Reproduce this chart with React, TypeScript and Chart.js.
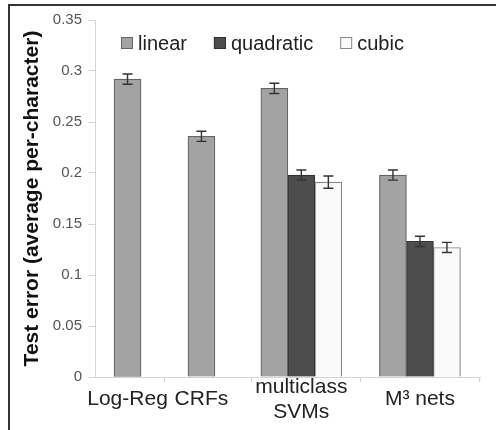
import React, { useEffect, useRef } from "react";
import { Chart, registerables, CategoryScale } from "chart.js";

Chart.register(...registerables);

// ---------- data ----------
const categories: (string | string[])[] = ["Log-Reg", "CRFs", ["multiclass", "SVMs"], "M³ nets"];
const seriesNames = ["linear", "quadratic", "cubic"];
const linearValues: (number | null)[] = [0.292, 0.236, 0.283, 0.198];
const quadraticValues: (number | null)[] = [null, null, 0.198, 0.133];
const cubicValues: (number | null)[] = [null, null, 0.191, 0.127];
const linearErrors: (number | null)[] = [0.005, 0.005, 0.005, 0.005];
const quadraticErrors: (number | null)[] = [null, null, 0.005, 0.005];
const cubicErrors: (number | null)[] = [null, null, 0.006, 0.005];
const yTickValues = [0, 0.05, 0.1, 0.15, 0.2, 0.25, 0.3, 0.35];
const yTickLabels = ["0", "0.05", "0.1", "0.15", "0.2", "0.25", "0.3", "0.35"];

// ---------- layout (category edges as fractions of the axis width) ----------
const CATEGORY_EDGES = [0, 0.169, 0.384, 0.688, 1];

class WeightedCategoryScale extends (CategoryScale as any) {
  static id = "weightedCategory";
  static defaults = (CategoryScale as any).defaults;
  getPixelForValue(value: any) {
    let v = value;
    if (typeof v !== "number") v = (this as any).parse(v);
    if (v === null || v === undefined || isNaN(v)) return NaN;
    const n = CATEGORY_EDGES.length - 1;
    let i = Math.floor(v + 0.5);
    if (i < 0) i = 0;
    if (i > n - 1) i = n - 1;
    const frac = v + 0.5 - i;
    const dec = CATEGORY_EDGES[i] + frac * (CATEGORY_EDGES[i + 1] - CATEGORY_EDGES[i]);
    return (this as any).getPixelForDecimal(dec);
  }
}
Chart.register(WeightedCategoryScale as any);

const FONT = "'Liberation Sans', Arial, Helvetica, sans-serif";

const errorBarPlugin = {
  id: "errorBars",
  afterDatasetsDraw(chart: any) {
    const ctx = chart.ctx;
    const yScale = chart.scales.y;
    ctx.save();
    ctx.strokeStyle = "#333";
    ctx.lineWidth = 1.4;
    chart.data.datasets.forEach((ds: any, di: number) => {
      const meta = chart.getDatasetMeta(di);
      const errs: (number | null)[] = ds.errors || [];
      meta.data.forEach((bar: any, i: number) => {
        const v = ds.data[i];
        const e = errs[i];
        if (v == null || e == null) return;
        const x = bar.x;
        const yTop = yScale.getPixelForValue(v + e);
        const yBot = yScale.getPixelForValue(v - e);
        const cap = 5;
        ctx.beginPath();
        ctx.moveTo(x, yTop);
        ctx.lineTo(x, yBot);
        ctx.moveTo(x - cap, yTop);
        ctx.lineTo(x + cap, yTop);
        ctx.moveTo(x - cap, yBot);
        ctx.lineTo(x + cap, yBot);
        ctx.stroke();
      });
    });
    ctx.restore();
  },
};

const legendPlugin = {
  id: "insideLegend",
  afterDraw(chart: any) {
    const ctx = chart.ctx;
    ctx.save();
    ctx.font = `20px ${FONT}`;
    ctx.textBaseline = "middle";
    ctx.textAlign = "left";
    let x = 121;
    const cy = 43;
    chart.data.datasets.forEach((ds: any) => {
      ctx.fillStyle = ds.backgroundColor;
      ctx.fillRect(x, cy - 6, 12, 12);
      ctx.strokeStyle = ds.borderColor;
      ctx.lineWidth = 1;
      ctx.strokeRect(x + 0.5, cy - 5.5, 11, 11);
      ctx.fillStyle = "#222";
      ctx.fillText(ds.label, x + 17, cy + 1);
      x += 17 + ctx.measureText(ds.label).width + 27;
    });
    ctx.restore();
  },
};

export default function App() {
  const canvasRef = useRef<HTMLCanvasElement | null>(null);

  useEffect(() => {
    if (!canvasRef.current) return;
    const chart = new Chart(canvasRef.current, {
      type: "bar",
      data: {
        labels: categories as any,
        datasets: [
          {
            label: seriesNames[0],
            data: linearValues,
            errors: linearErrors,
            backgroundColor: "#a3a3a3",
            borderColor: "#666",
            borderWidth: 1.2,
          } as any,
          {
            label: seriesNames[1],
            data: quadraticValues,
            errors: quadraticErrors,
            backgroundColor: "#4d4d4d",
            borderColor: "#333",
            borderWidth: 1.2,
          } as any,
          {
            label: seriesNames[2],
            data: cubicValues,
            errors: cubicErrors,
            backgroundColor: "#f9f9f9",
            borderColor: "#888",
            borderWidth: 1.2,
          } as any,
        ],
      },
      options: {
        animation: false,
        responsive: false,
        maintainAspectRatio: false,
        skipNull: true,
        barThickness: 27,
        layout: { padding: { left: 8, top: 20, right: 16, bottom: 0 } },
        plugins: {
          legend: { display: false },
          tooltip: { enabled: false },
        },
        scales: {
          x: {
            type: "weightedCategory" as any,
            offset: true,
            grid: {
              offset: true,
              drawOnChartArea: false,
              drawTicks: true,
              tickLength: 5,
              color: "#d4d4d4",
            },
            border: { color: "#d4d4d4" },
            ticks: {
              font: { family: FONT, size: 21 },
              color: "#222",
              padding: 5,
              maxRotation: 0,
              autoSkip: false,
              crossAlign: "center",
            } as any,
            afterFit: (scale: any) => {
              scale.height = 53;
            },
          },
          y: {
            min: 0,
            max: 0.35,
            afterBuildTicks: (scale: any) => {
              scale.ticks = yTickValues.map((v) => ({ value: v }));
            },
            grid: {
              drawOnChartArea: false,
              drawTicks: true,
              tickLength: 7,
              color: "#d4d4d4",
            },
            border: { color: "#d4d4d4" },
            ticks: {
              font: { family: FONT, size: 15 },
              color: "#555",
              padding: 6,
              callback: (_v: any, i: number) => yTickLabels[i],
            },
            title: {
              display: true,
              text: "Test error (average per-character)",
              font: { family: FONT, size: 21, weight: "bold" },
              color: "#111",
              padding: { top: 12, bottom: 0 },
            },
            afterFit: (scale: any) => {
              scale.width = 87;
            },
          },
        },
      } as any,
      plugins: [errorBarPlugin, legendPlugin],
    });
    return () => chart.destroy();
  }, []);

  return (
    <div
      style={{
        position: "fixed",
        left: 0,
        top: 0,
        width: 496,
        height: 430,
        background: "#fff",
      }}
    >
      <canvas ref={canvasRef} width={496} height={430} style={{ position: "absolute", left: 0, top: 0 }} />
      <div
        style={{
          position: "absolute",
          left: 8,
          top: 4,
          width: 488,
          height: 426,
          borderTop: "2px solid #333",
          borderLeft: "2px solid #333",
          boxSizing: "border-box",
          pointerEvents: "none",
        }}
      />
    </div>
  );
}
